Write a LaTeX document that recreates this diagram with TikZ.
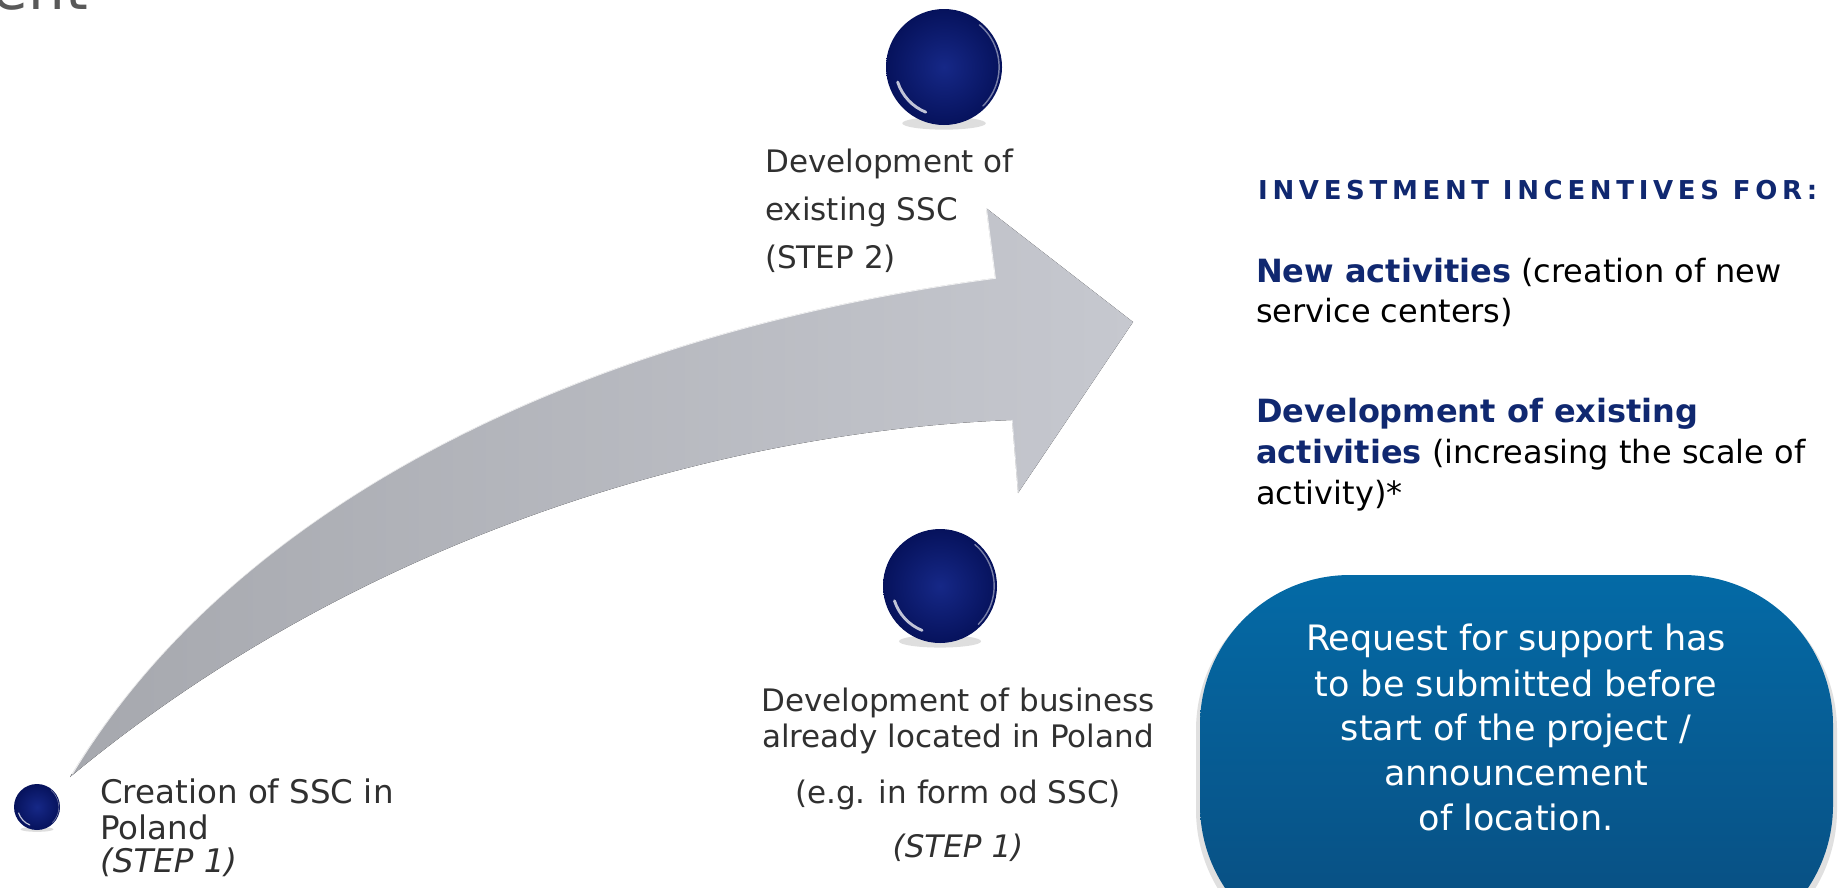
\documentclass[tikz,border=0pt]{standalone}
\usepackage{fontspec}
\setmainfont{DejaVu Sans}
\usetikzlibrary{shadings}
\definecolor{sphin}{RGB}{22,40,135}
\definecolor{sphout}{RGB}{6,18,92}
\definecolor{navyt}{RGB}{16,40,112}
\definecolor{labelgray}{RGB}{48,48,48}
\definecolor{titlegray}{RGB}{89,89,89}
\definecolor{arrowdark}{RGB}{166,168,174}
\definecolor{arrowlight}{RGB}{198,200,207}
\definecolor{boxtop}{RGB}{4,106,166}
\definecolor{boxbot}{RGB}{9,76,126}
\newcommand\gsphere[4]{%
  \fill[black,opacity=.13] (#2,#3+0.97*#4) ellipse ({0.72*#4} and {0.11*#4});
  \node[circle, minimum size={2*#4pt}, inner sep=0pt, inner color=sphin, outer color=sphout] (#1) at (#2,#3) {};
  \draw[white, opacity=.75, line width={0.05*#4pt}, line cap=round]
    ([shift={(#2,#3)}]112:{0.84*#4}) arc[start angle=112, end angle=162, radius={0.84*#4}];
  \draw[white, opacity=.45, line width={0.025*#4pt}, line cap=round]
    ([shift={(#2,#3)}]-50:{0.95*#4}) arc[start angle=-50, end angle=45, radius={0.95*#4}];
}
\begin{document}
\begin{tikzpicture}[x=1pt,y=-1pt,
  lbl/.style={font=\fontsize{31}{37}\selectfont, text=labelgray, inner sep=0pt},
  lbli/.style={font=\fontsize{31}{37}\selectfont\itshape, text=labelgray, inner sep=0pt},
  lblb/.style={font=\fontsize{32.5}{38}\selectfont, text=labelgray, inner sep=0pt},
  lblbi/.style={font=\fontsize{32.5}{38}\selectfont\itshape, text=labelgray, inner sep=0pt},
  rtxt/.style={font=\fontsize{32}{38}\selectfont, text=black, inner sep=0pt, anchor=base west},
  btxt/.style={font=\fontsize{35}{40}\selectfont, text=white, inner sep=0pt, anchor=base}]
\useasboundingbox (0,0) rectangle (1839,887);

% title fragment
\node[anchor=base east, font=\fontsize{58}{60}\selectfont, text=titlegray, inner sep=0pt] (title) at (88,9) {ent};

% curved arrow
\fill[left color=arrowdark, right color=arrowlight]
  (70,777) .. controls (240,495) and (600,330) .. (995,278)
  -- (986,208) -- (1133,322) -- (1018,493) -- (1012,420)
  .. controls (750,430) and (380,520) .. (70,777) -- cycle;
\draw[white, opacity=.8, line width=1.6pt]
  (72,774) .. controls (240,495) and (600,330) .. (995,278) -- (986,208);
\draw[white, opacity=.6, line width=1.2pt] (1018,493) -- (1012,420);

% spheres
\gsphere{s2}{944}{67}{58}
\gsphere{s1b}{940}{586}{57}
\gsphere{s1a}{37}{807}{23}

% step 2 label
\node[lbl, anchor=base west] (t2a) at (765,172) {Development of};
\node[lbl, anchor=base west] (t2b) at (765,220) {existing SSC};
\node[lbl, anchor=base west] (t2c) at (765,268) {(STEP 2)};

% step 1 (left)
\node[lblb, anchor=base west] (t1a) at (100,803) {Creation of SSC in};
\node[lblb, anchor=base west] (t1b) at (100,839) {Poland};
\node[lblbi, anchor=base west] (t1c) at (100,872) {(STEP 1)};

% step 1 (middle)
\node[lbl, anchor=base] (m1) at (958,711) {Development of business};
\node[lbl, anchor=base] (m2) at (958,747) {already located in Poland};
\node[lbl, anchor=base] (m3) at (958,803) {(e.g. in form od SSC)};
\node[lbli, anchor=base] (m4) at (958,857) {(STEP 1)};

% right column
\node[anchor=base west, inner sep=0pt, text=navyt,
  font=\fontsize{26}{30}\selectfont\bfseries\addfontfeature{LetterSpace=18}] (hdr) at (1258,199) {INVESTMENT INCENTIVES FOR:};
\node[rtxt] (r1) at (1256,282) {\textcolor{navyt}{\bfseries New activities} (creation of new};
\node[rtxt] (r2) at (1256,322) {service centers)};
\node[rtxt] (r3) at (1256,422) {\textcolor{navyt}{\bfseries Development of existing}};
\node[rtxt] (r4) at (1256,463) {\textcolor{navyt}{\bfseries activities} (increasing the scale of};
\node[rtxt] (r5) at (1256,504) {activity)*};

% request box
\fill[black, opacity=.12, rounded corners=152pt] (1196,578) rectangle (1837,962);
\node[rectangle, rounded corners=150pt, minimum width=633pt, minimum height=380pt,
  top color=boxtop, bottom color=boxbot, inner sep=0pt] (box) at (1516.5,765) {};
\node[btxt] (b1) at (1516,650) {Request for support has};
\node[btxt] (b2) at (1516,696) {to be submitted before};
\node[btxt] (b3) at (1516,740) {start of the project /};
\node[btxt] (b4) at (1516,785) {announcement};
\node[btxt] (b5) at (1516,830) {of location.};
\end{tikzpicture}
\end{document}
